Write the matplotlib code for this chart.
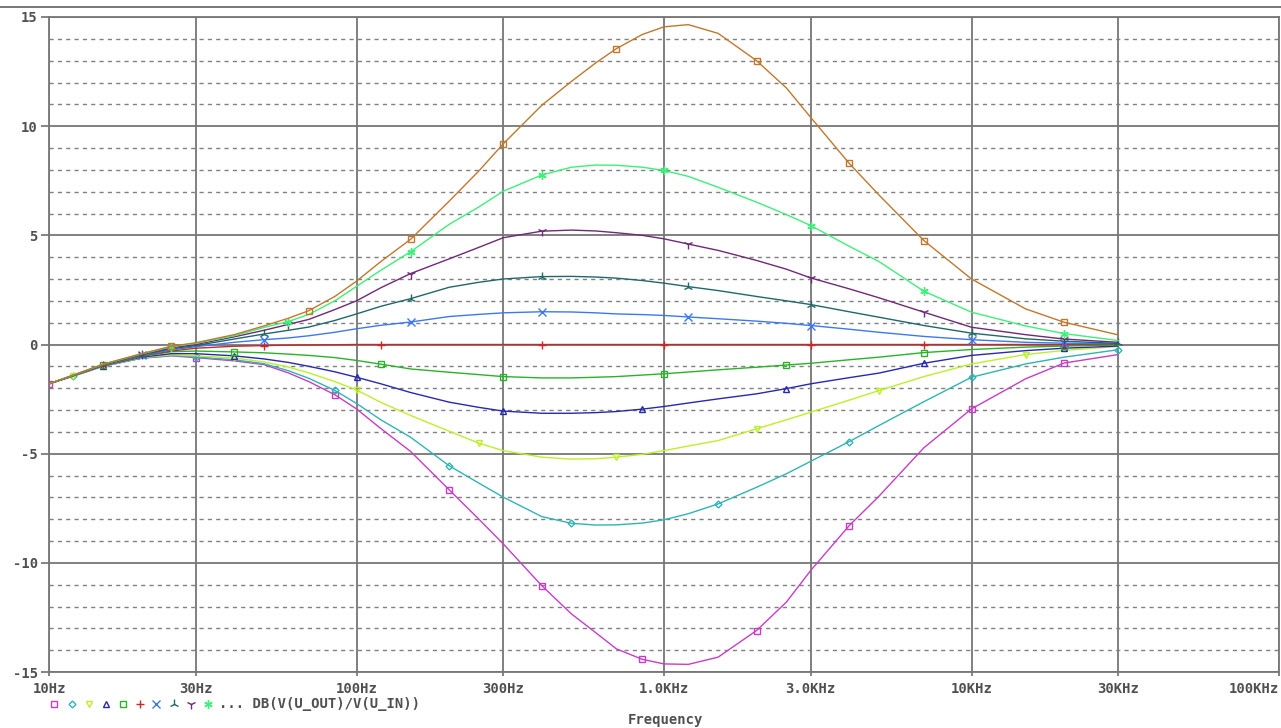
import matplotlib
matplotlib.use("Agg")
import matplotlib.pyplot as plt
from matplotlib.lines import Line2D
from matplotlib.ticker import FixedLocator, NullLocator

freq = [10, 12, 15, 20, 25, 30, 40, 50, 60, 70, 85, 100, 120, 150, 200, 250, 300, 400,
        500, 600, 700, 850, 1000, 1200, 1500, 2000, 2500, 3000, 4000, 5000, 7000,
        10000, 15000, 20000, 30000]

# gain in dB, one list per pot setting
cut_147 = [-1.8, -1.45, -1.0, -0.63, -0.52, -0.6, -0.75, -0.92, -1.3, -1.7, -2.3, -2.95,
           -3.85, -4.9, -6.65, -8.0, -9.13, -11.04, -12.34, -13.2, -13.94, -14.42, -14.63,
           -14.65, -14.32, -13.1, -11.8, -10.35, -8.3, -6.95, -4.73, -2.95, -1.57, -0.85, -0.46]
cut_82 = [-1.8, -1.44, -0.99, -0.62, -0.5, -0.57, -0.7, -0.88, -1.2, -1.55, -2.1, -2.7,
          -3.45, -4.25, -5.55, -6.35, -6.99, -7.88, -8.19, -8.27, -8.26, -8.18, -8.03,
          -7.75, -7.3, -6.54, -5.92, -5.35, -4.45, -3.71, -2.62, -1.5, -0.89, -0.58, -0.24]
cut_52 = [-1.8, -1.44, -0.98, -0.6, -0.47, -0.52, -0.62, -0.8, -1.03, -1.3, -1.7, -2.08,
          -2.65, -3.25, -3.97, -4.52, -4.86, -5.16, -5.25, -5.23, -5.16, -5.03, -4.86,
          -4.65, -4.4, -3.86, -3.45, -3.1, -2.55, -2.11, -1.47, -0.89, -0.46, -0.27, -0.09]
cut_31 = [-1.8, -1.43, -0.97, -0.58, -0.42, -0.42, -0.52, -0.66, -0.82, -1.0, -1.25, -1.5,
          -1.8, -2.2, -2.64, -2.88, -3.05, -3.15, -3.15, -3.12, -3.07, -2.96, -2.84,
          -2.68, -2.49, -2.26, -2.02, -1.8, -1.52, -1.31, -0.86, -0.5, -0.28, -0.17, -0.07]
cut_15 = [-1.8, -1.43, -0.96, -0.55, -0.33, -0.3, -0.34, -0.38, -0.44, -0.5, -0.6, -0.73,
          -0.9, -1.12, -1.27, -1.38, -1.47, -1.53, -1.53, -1.5, -1.47, -1.4, -1.34,
          -1.26, -1.16, -1.04, -0.94, -0.86, -0.7, -0.58, -0.37, -0.23, -0.12, -0.07, -0.03]
flat = [-1.8, -1.42, -0.95, -0.52, -0.3, -0.17, -0.08, -0.05, -0.03, -0.02, -0.01, 0,
        0, 0, 0, 0, 0, 0, 0, 0, 0, 0, 0,
        0, 0, 0, 0, 0, 0, 0, 0, 0, 0, 0, 0]
boost_15 = [-1.8, -1.42, -0.94, -0.5, -0.25, -0.1, 0.1, 0.22, 0.3, 0.4, 0.56, 0.72,
            0.88, 1.03, 1.28, 1.38, 1.45, 1.5, 1.49, 1.45, 1.4, 1.37, 1.33,
            1.26, 1.18, 1.07, 0.97, 0.87, 0.7, 0.56, 0.37, 0.22, 0.1, 0.06, 0.03]
boost_31 = [-1.8, -1.41, -0.93, -0.47, -0.2, -0.05, 0.25, 0.48, 0.65, 0.8, 1.1, 1.4,
            1.75, 2.1, 2.62, 2.85, 3.0, 3.11, 3.12, 3.09, 3.04, 2.93, 2.81,
            2.65, 2.47, 2.2, 2.0, 1.83, 1.5, 1.25, 0.87, 0.52, 0.26, 0.15, 0.05]
boost_52 = [-1.8, -1.41, -0.92, -0.45, -0.15, 0.0, 0.35, 0.65, 0.92, 1.15, 1.6, 2.0,
            2.6, 3.25, 3.92, 4.45, 4.89, 5.19, 5.24, 5.2, 5.12, 5.0, 4.84,
            4.6, 4.31, 3.85, 3.45, 3.05, 2.55, 2.14, 1.48, 0.79, 0.45, 0.25, 0.1]
boost_82 = [-1.8, -1.4, -0.91, -0.43, -0.1, 0.05, 0.4, 0.78, 1.05, 1.38, 2.0, 2.66,
            3.4, 4.25, 5.5, 6.3, 7.02, 7.76, 8.12, 8.22, 8.21, 8.12, 7.97,
            7.7, 7.2, 6.52, 5.95, 5.45, 4.5, 3.8, 2.44, 1.48, 0.85, 0.5, 0.18]
boost_147 = [-1.8, -1.4, -0.9, -0.42, -0.08, 0.08, 0.45, 0.85, 1.2, 1.55, 2.2, 2.9,
             3.8, 4.82, 6.56, 7.95, 9.19, 10.95, 12.05, 12.9, 13.55, 14.2, 14.55,
             14.65, 14.25, 13.0, 11.75, 10.4, 8.3, 6.85, 4.76, 3.0, 1.63, 1.02, 0.44]

xticks = [10, 30, 100, 300, 1000, 3000, 10000, 30000, 100000]
xlabels = ["10Hz", "30Hz", "100Hz", "300Hz", "1.0KHz", "3.0KHz", "10KHz", "30KHz", "100KHz"]
yticks = [-15, -10, -5, 0, 5, 10, 15]

curves = [cut_147, cut_82, cut_52, cut_31, cut_15, flat,
          boost_15, boost_31, boost_52, boost_82, boost_147]
colors = ["#c83cc8", "#30b4b4", "#bcf028", "#2828b0", "#28b428", "#c82828",
          "#3c78f0", "#206868", "#702878", "#3cf078", "#c0782c"]
markers = ["s", "D", "v", "^", "s", "+", "x", "2", "1", (6, 2, 0), "s"]
msizes = [5, 3.5, 5, 5, 5, 6, 5.5, 6.5, 6.5, 6, 5]

txt_col = "#505050"
mono = {"family": "DejaVu Sans Mono", "weight": "bold", "size": 10, "color": txt_col}

fig = plt.figure(figsize=(12.81, 7.28), dpi=100)
ax = fig.add_axes([49 / 1281, 1 - 672 / 728, 1230 / 1281, 655 / 728])

diag = (1230 ** 2 + 655 ** 2) ** 0.5
for i, (ys, c, m, ms) in enumerate(zip(curves, colors, markers, msizes)):
    start = (9 + i * 12.3) / diag
    ax.plot(freq, ys, color=c, lw=1.0, marker=m, ms=ms, mfc="none", mec=c, mew=1.0,
            markevery=(start, 138 / diag), zorder=3 + i * 0.01)

ax.set_xscale("log")
ax.set_xlim(10, 100000)
ax.set_ylim(-15, 15)
ax.xaxis.set_major_locator(FixedLocator(xticks))
ax.xaxis.set_minor_locator(NullLocator())
ax.set_xticklabels(xlabels, fontdict=mono)
ax.set_yticks(yticks)
ax.set_yticklabels([str(v) for v in yticks], fontdict=mono)
ax.yaxis.set_minor_locator(FixedLocator([v for v in range(-14, 15) if v % 5 != 0]))
ax.tick_params(axis="y", which="major", length=6, width=1.2, color="#707070", pad=2)
ax.tick_params(axis="x", which="major", length=3, width=1.2, color="#707070", pad=4)
ax.tick_params(axis="y", which="minor", length=0)
ax.xaxis.get_majorticklabels()[-1].set_horizontalalignment("right")

ax.grid(which="major", color="#767676", lw=1.3, ls="-", zorder=1)
ax.yaxis.grid(which="minor", color="#808080", lw=1.0, ls=(0, (3, 3)), zorder=1)
ax.set_axisbelow(True)
for s in ax.spines.values():
    s.set_color("#767676")
    s.set_linewidth(1.3)

# line across the top of the window
fig.add_artist(Line2D([0, 1], [1 - 7 / 728] * 2, color="#606060", lw=1.2))

# legend row under the axis
ly = 1 - 704 / 728
leg_x = [54, 72, 89, 106, 123, 140, 156, 174, 191, 208]
for x, c, m, ms in zip(leg_x, colors, markers, msizes):
    fig.add_artist(Line2D([x / 1281], [ly], marker=m, ms=ms, mfc="none", mec=c,
                          mew=1.0, ls="none"))
fig.text(219 / 1281, ly, "... DB(V(U_OUT)/V(U_IN))", ha="left", va="center", **mono)
fig.text(665 / 1281, 1 - 720 / 728, "Frequency", ha="center", va="center", **mono)

fig.savefig("out.png", dpi=100, facecolor="white")
